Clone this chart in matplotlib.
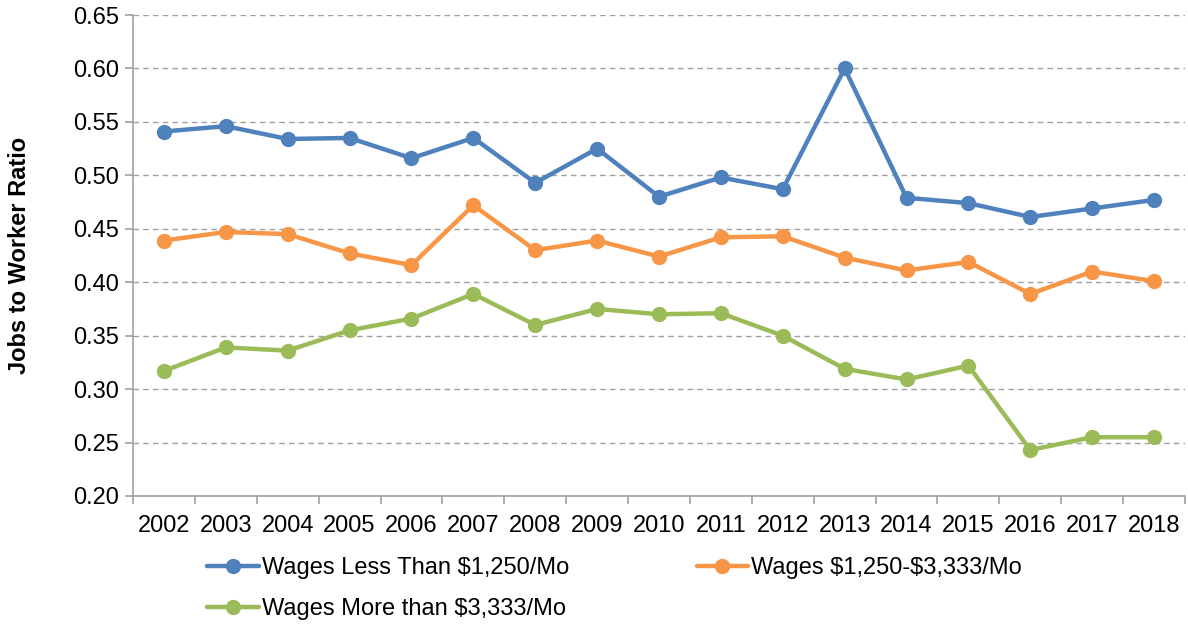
import numpy as np
import matplotlib
matplotlib.use('Agg')
import matplotlib.pyplot as plt

years = ['2002', '2003', '2004', '2005', '2006', '2007', '2008', '2009', '2010',
         '2011', '2012', '2013', '2014', '2015', '2016', '2017', '2018']
low_wage = [0.541, 0.546, 0.534, 0.535, 0.516, 0.535, 0.493, 0.525, 0.480,
            0.498, 0.487, 0.600, 0.479, 0.474, 0.461, 0.469, 0.477]
mid_wage = [0.439, 0.447, 0.445, 0.427, 0.416, 0.472, 0.430, 0.439, 0.424,
            0.442, 0.443, 0.423, 0.411, 0.419, 0.389, 0.410, 0.401]
high_wage = [0.317, 0.339, 0.336, 0.355, 0.366, 0.389, 0.360, 0.375, 0.370,
             0.371, 0.350, 0.319, 0.309, 0.322, 0.243, 0.255, 0.255]
labels = [r'Wages Less Than \$1,250/Mo', r'Wages \$1,250-\$3,333/Mo', r'Wages More than \$3,333/Mo']
colors = ['#4F81BD', '#F79646', '#9BBB59']

plt.rcParams['font.family'] = ['Liberation Sans', 'DejaVu Sans']

fig = plt.figure(figsize=(11.88, 6.24), dpi=100)
ax = fig.add_axes([133 / 1188, 1 - 496 / 624, (1185 - 133) / 1188, (496 - 15) / 624])

x = np.arange(len(years))
lines = []
for vals, lab, col in zip([low_wage, mid_wage, high_wage], labels, colors):
    ln, = ax.plot(x, vals, color=col, lw=3.2, marker='o', markersize=10, label=lab,
                  solid_capstyle='round', zorder=3)
    lines.append(ln)

ax.set_xlim(-0.5, len(years) - 0.5)
ax.set_ylim(0.20, 0.65)
ax.set_yticks(np.arange(0.20, 0.651, 0.05))
ax.set_yticklabels([f'{v:.2f}' for v in np.arange(0.20, 0.651, 0.05)])
ax.yaxis.grid(True, color='#A0A0A0', linestyle=(0, (4, 3)), lw=1)
ax.set_axisbelow(True)

ax.set_xticks(x)
ax.set_xticklabels(years)
ax.set_xticks(np.arange(-0.5, len(years)), minor=True)
ax.tick_params(axis='x', which='major', length=0, pad=14, labelsize=17)
ax.tick_params(axis='x', which='minor', length=6, color='#A0A0A0', width=1.2)
ax.tick_params(axis='y', length=6, color='#A0A0A0', width=1.2, labelsize=17, pad=4)

for s in ['top', 'right']:
    ax.spines[s].set_visible(False)
for s in ['left', 'bottom']:
    ax.spines[s].set_color('#A0A0A0')
    ax.spines[s].set_linewidth(1.2)

ax.set_ylabel('Jobs to Worker Ratio', fontsize=17, fontweight='bold', labelpad=30)

# column-major fill: low & high in first column, mid in second
fig.legend(handles=[lines[0], lines[2], lines[1]], loc='upper left',
           bbox_to_anchor=(198 / 1188, 1 - 548 / 624),
           ncol=2, frameon=False, fontsize=17, handlelength=2.2, handletextpad=0.1,
           columnspacing=5.4, labelspacing=0.8, borderaxespad=0)

fig.savefig('out.png', dpi=100)
